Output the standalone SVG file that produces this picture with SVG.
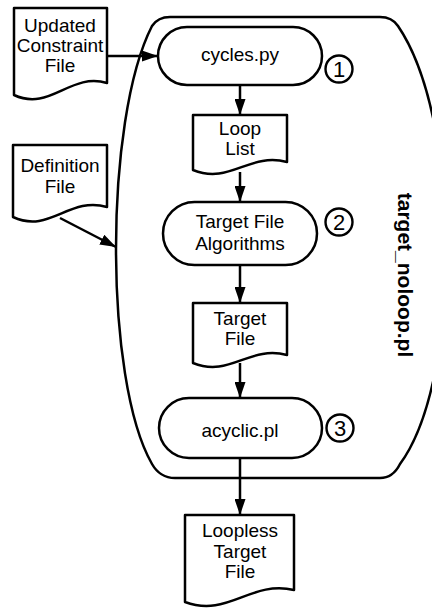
<svg xmlns="http://www.w3.org/2000/svg" width="432" height="608" viewBox="0 0 432 608">
<defs>
<style>
.s{fill:#fff;stroke:#000;stroke-width:2.5;stroke-linejoin:round}
.c{fill:#fff;stroke:#000;stroke-width:2.4}
.t{font-family:"Liberation Sans",Arial,sans-serif;font-size:19px;fill:#000;text-anchor:middle}
.n{font-family:"Liberation Sans",Arial,sans-serif;font-size:22px;fill:#000;text-anchor:middle}
.b{font-family:"Liberation Sans",Arial,sans-serif;font-size:21px;font-weight:bold;fill:#000;text-anchor:middle}
.e{fill:none;stroke:#000;stroke-width:2.5}
</style>
<marker id="a" markerUnits="userSpaceOnUse" markerWidth="16" markerHeight="11" refX="16" refY="5.5" orient="auto">
<path d="M0,0 L16,5.5 L0,11 Z" fill="#000"/>
</marker>
</defs>
<rect width="432" height="608" fill="#fff"/>
<g id="target_noloop">
<path class="s" d="M170,17 L380,17 Q392,17 398,26 C462,120 462,380 400,464 Q393,478 380,478 L175,478 Q160,478 152,464 C104,380 104,120 152,26 Q158,17 170,17 Z"/>
<text class="b" transform="rotate(90 398 275)" x="398" y="275">target_noloop.pl</text>
</g>
<g id="updated">
<path class="s" d="M14,8 H107 V83 C70,72 50,112 14,95 Z"/>
<text class="t" x="60" y="32">Updated</text>
<text class="t" x="60" y="52">Constraint</text>
<text class="t" x="60" y="72">File</text>
</g>
<g id="definition">
<path class="s" d="M13,145 H107 V207 C69,196 50,234 13,217 Z"/>
<text class="t" x="60" y="172">Definition</text>
<text class="t" x="60" y="193">File</text>
</g>
<g id="cycles">
<rect class="s" x="158" y="27" width="164" height="58" rx="29"/>
<text class="t" x="240" y="61">cycles.py</text>
<circle class="c" cx="339" cy="69" r="13.5"/>
<text class="n" x="339" y="77">1</text>
</g>
<g id="looplist">
<path class="s" d="M193,115 H287 V162 C249,152 230,185 193,170 Z"/>
<text class="t" x="240" y="135">Loop</text>
<text class="t" x="240" y="155">List</text>
</g>
<g id="algorithms">
<rect class="s" x="163" y="202" width="154" height="63" rx="31.5"/>
<text class="t" x="240" y="228">Target File</text>
<text class="t" x="240" y="250">Algorithms</text>
<circle class="c" cx="339" cy="222" r="13.5"/>
<text class="n" x="339" y="230">2</text>
</g>
<g id="targetfile">
<path class="s" d="M193,303 H287 V355 C249,345 230,378 193,363 Z"/>
<text class="t" x="240" y="325">Target</text>
<text class="t" x="240" y="345">File</text>
</g>
<g id="acyclic">
<rect class="s" x="159" y="398" width="163" height="60" rx="30"/>
<text class="t" x="240" y="437">acyclic.pl</text>
<circle class="c" cx="340" cy="428" r="13.5"/>
<text class="n" x="340" y="436">3</text>
</g>
<g id="loopless">
<path class="s" d="M185,515 H294 V590 C250,580 228,618 185,602 Z"/>
<text class="t" x="240" y="537">Loopless</text>
<text class="t" x="240" y="558">Target</text>
<text class="t" x="240" y="578">File</text>
</g>
<g id="connectors">
<line class="e" x1="107" y1="56" x2="158" y2="56" marker-end="url(#a)"/>
<line class="e" x1="60" y1="218" x2="116" y2="247" marker-end="url(#a)"/>
<line class="e" x1="240" y1="85" x2="240" y2="115" marker-end="url(#a)"/>
<line class="e" x1="240" y1="172" x2="240" y2="202" marker-end="url(#a)"/>
<line class="e" x1="240" y1="265" x2="240" y2="303" marker-end="url(#a)"/>
<line class="e" x1="240" y1="363" x2="240" y2="398" marker-end="url(#a)"/>
<line class="e" x1="240" y1="458" x2="240" y2="515" marker-end="url(#a)"/>
</g>
</svg>
